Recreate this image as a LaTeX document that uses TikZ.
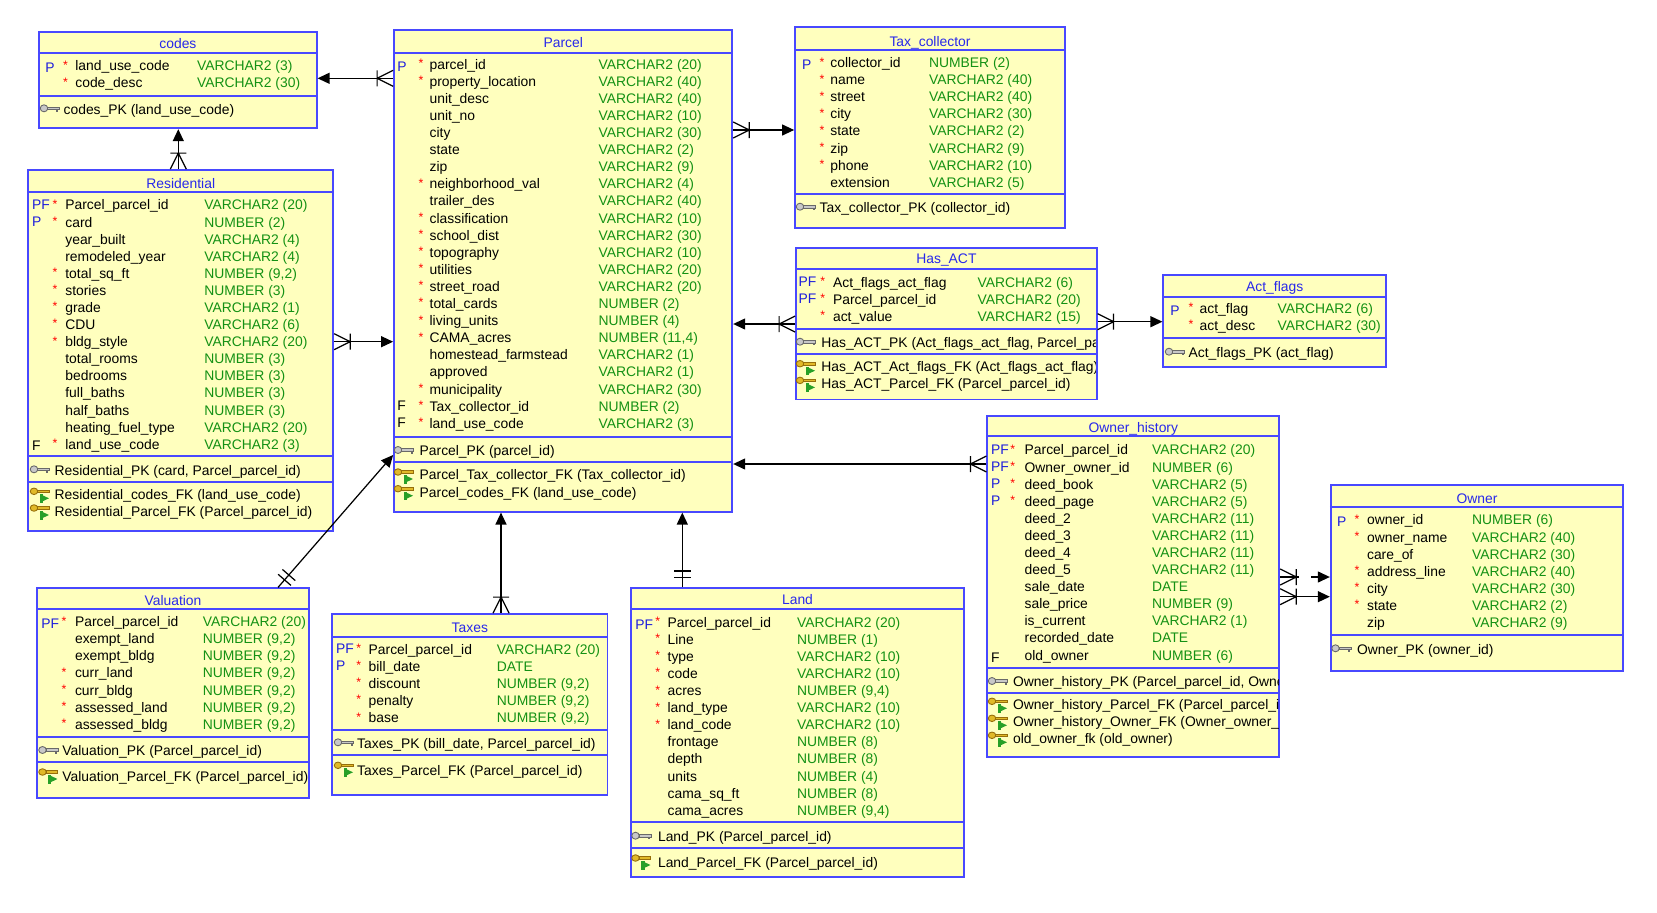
\documentclass[tikz,border=0pt]{standalone}
\usepackage{fontspec}
\setmainfont{Liberation Sans}
\usepackage{tikz}
\usetikzlibrary{arrows.meta,fit,decorations.markings}
\definecolor{tblfill}{RGB}{255,255,190}
\definecolor{tblblue}{RGB}{72,72,255}
\definecolor{titleblue}{RGB}{40,40,235}
\definecolor{flagblue}{RGB}{30,30,220}
\definecolor{typegreen}{RGB}{20,145,20}
\definecolor{keygray}{RGB}{105,105,105}
\definecolor{keylight}{RGB}{200,200,200}
\definecolor{keygold}{RGB}{225,185,40}
\definecolor{keybrown}{RGB}{150,110,10}
\definecolor{keygreen}{RGB}{40,160,40}
\tikzset{
  tbl/.style = {draw=tblblue, fill=tblfill, line width=1pt, inner sep=0pt},% table box
  tblsep/.style = {draw=tblblue, line width=1pt},% line between sections
  tbltitle/.style = {anchor=base, inner sep=0pt, text=titleblue,
    font=\fontsize{7.9}{9.73}\selectfont},% table name
  tblcol/.style = {anchor=north west, inner sep=0pt, align=left,
    font=\fontsize{7.9}{9.73}\selectfont, execute at begin node=\strut},% column of rows
  tblflag/.style = {tblcol, text=flagblue},% P, PF
  tblstar/.style = {tblcol, text=red, font=\fontsize{7}{9.73}\selectfont},% not null
  tbltype/.style = {tblcol, text=typegreen},% data type
  rel/.style = {draw=black, line width=0.7pt,
    -{Triangle[length=0.24cm, width=0.22cm]}},% relation, arrow on the parent
  crow/.style = {postaction={decorate, decoration={markings,
    mark=at position 0.32cm with {\draw[-, line width=0.7pt]
      (0cm,-0.16cm) -- (0cm,0.16cm)
      (0cm,0cm) -- (-0.32cm,0.16cm) (0cm,0cm) -- (-0.32cm,-0.16cm);}}}},% many
  onlyone/.style = {postaction={decorate, decoration={markings,
    mark=at position 0.2cm with {\draw[-, line width=0.7pt] (0cm,-0.17cm) -- (0cm,0.17cm);},
    mark=at position 0.33cm with {\draw[-, line width=0.7pt] (0cm,-0.17cm) -- (0cm,0.17cm);}}}},% one and only one
  pkicon/.pic = {
    \filldraw[draw=keygray, fill=keylight, line width=0.5pt]
      (-0.12cm,0cm) ellipse [x radius=0.075cm, y radius=0.07cm];
    \filldraw[draw=keygray, fill=keylight, line width=0.5pt]
      (-0.05cm,-0.025cm) rectangle (0.19cm,0.025cm);
    \fill[keygray] (0.13cm,-0.025cm) rectangle (0.17cm,-0.07cm);
  },% primary key
  fkicon/.pic = {
    \filldraw[draw=keybrown, fill=keygold, line width=0.5pt]
      (-0.12cm,0.06cm) ellipse [x radius=0.075cm, y radius=0.065cm];
    \filldraw[draw=keybrown, fill=keygold, line width=0.5pt]
      (-0.05cm,0.035cm) rectangle (0.18cm,0.085cm);
    \fill[keygreen] (-0.01cm,-0.17cm) rectangle (0.06cm,0cm);
    \fill[keygreen] (0.03cm,-0.01cm) -- (0.18cm,-0.08cm) -- (0.03cm,-0.15cm) -- cycle;
  }% foreign key
}
\begin{document}
\begin{tikzpicture}[x=0.02cm, y=-0.02cm]
\useasboundingbox (0,0) rectangle (1657,913);

% codes
\node[tbl, fit={(39,31.7) (316.7,128.3)}] (codes) {};
\node[tbltitle] (codes_t) at (177.9,48.8) {codes};
\draw[tblsep] (codes.west |- 0,53) -- (codes.east |- 0,53)
  (codes.west |- 0,96) -- (codes.east |- 0,96);
\node[tblflag] (codes_f) at (45,60.2) {P};
\node[tblstar] (codes_s) at (62.7,60.2) {*\\ *};
\node[tblcol] (codes_n) at (75,60.2) {land\_use\_code\\ code\_desc};
\node[tbltype] (codes_d) at (196.7,60.2) {VARCHAR2 (3)\\ VARCHAR2 (30)};
\node[tblcol] (codes_pk) at (63.3,101.8) {codes\_PK (land\_use\_code)};

% Residential
\node[tbl, fit={(28.3,170) (333.3,531)}] (residential) {};
\node[tbltitle] (residential_t) at (180.8,188.2) {Residential};
\draw[tblsep] (residential.west |- 0,192.3) -- (residential.east |- 0,192.3)
  (residential.west |- 0,456) -- (residential.east |- 0,456)
  (residential.west |- 0,482.3) -- (residential.east |- 0,482.3);
\node[tblflag] (residential_f) at (31.7,199.5) {PF\\ P};
\node[tblcol] (residential_fk) at (31.7,438.2) {F};
\node[tblstar] (residential_s) at (52.3,199.5) {*\\ *\\ \\ \\ *\\ *\\ *\\ *\\ *\\ \\ \\ \\ \\ \\ *};
\node[tblcol] (residential_n) at (65,199.5) {Parcel\_parcel\_id\\ card\\ year\_built\\
  remodeled\_year\\ total\_sq\_ft\\ stories\\ grade\\ CDU\\ bldg\_style\\ total\_rooms\\
  bedrooms\\ full\_baths\\ half\_baths\\ heating\_fuel\_type\\ land\_use\_code};
\node[tbltype] (residential_d) at (204,199.5) {VARCHAR2 (20)\\ NUMBER (2)\\ VARCHAR2 (4)\\
  VARCHAR2 (4)\\ NUMBER (9,2)\\ NUMBER (3)\\ VARCHAR2 (1)\\ VARCHAR2 (6)\\ VARCHAR2 (20)\\
  NUMBER (3)\\ NUMBER (3)\\ NUMBER (3)\\ NUMBER (3)\\ VARCHAR2 (20)\\ VARCHAR2 (3)};
\node[tblcol] (residential_pk) at (54.3,462.8) {Residential\_PK (card, Parcel\_parcel\_id)};
\node[tblcol] (residential_fks) at (54.3,488.8) {Residential\_codes\_FK (land\_use\_code)\\
  Residential\_Parcel\_FK (Parcel\_parcel\_id)};

% Parcel
\node[tbl, fit={(394,30) (732.3,511.7)}] (parcel) {};
\node[tbltitle] (parcel_t) at (563.2,47.8) {Parcel};
\draw[tblsep] (parcel.west |- 0,53.3) -- (parcel.east |- 0,53.3)
  (parcel.west |- 0,436.7) -- (parcel.east |- 0,436.7)
  (parcel.west |- 0,462.3) -- (parcel.east |- 0,462.3);
\node[tblflag] (parcel_f) at (397,58.8) {P};
\node[tblcol] (parcel_fk) at (397,400.8) {F\\ F};
\node[tblstar] (parcel_s) at (418.3,58.8) {*\\ *\\ \\ \\ \\ \\ \\ *\\ \\ *\\ *\\ *\\ *\\ *\\ *\\ *\\ *\\ \\ \\ *\\ *\\ *};
\node[tblcol] (parcel_n) at (429.3,58.8) {parcel\_id\\ property\_location\\ unit\_desc\\
  unit\_no\\ city\\ state\\ zip\\ neighborhood\_val\\ trailer\_des\\ classification\\
  school\_dist\\ topography\\ utilities\\ street\_road\\ total\_cards\\ living\_units\\
  CAMA\_acres\\ homestead\_farmstead\\ approved\\ municipality\\ Tax\_collector\_id\\
  land\_use\_code};
\node[tbltype] (parcel_d) at (598.3,58.8) {VARCHAR2 (20)\\ VARCHAR2 (40)\\ VARCHAR2 (40)\\
  VARCHAR2 (10)\\ VARCHAR2 (30)\\ VARCHAR2 (2)\\ VARCHAR2 (9)\\ VARCHAR2 (4)\\
  VARCHAR2 (40)\\ VARCHAR2 (10)\\ VARCHAR2 (30)\\ VARCHAR2 (10)\\ VARCHAR2 (20)\\
  VARCHAR2 (20)\\ NUMBER (2)\\ NUMBER (4)\\ NUMBER (11,4)\\ VARCHAR2 (1)\\ VARCHAR2 (1)\\
  VARCHAR2 (30)\\ NUMBER (2)\\ VARCHAR2 (3)};
\node[tblcol] (parcel_pk) at (419.3,443.5) {Parcel\_PK (parcel\_id)};
\node[tblcol] (parcel_fks) at (419.3,469.5) {Parcel\_Tax\_collector\_FK (Tax\_collector\_id)\\
  Parcel\_codes\_FK (land\_use\_code)};

% Tax_collector
\node[tbl, fit={(795,27.3) (1065,228.3)}] (tax_collector) {};
\node[tbltitle] (tax_collector_t) at (930,46.2) {Tax\_collector};
\draw[tblsep] (tax_collector.west |- 0,50) -- (tax_collector.east |- 0,50)
  (tax_collector.west |- 0,194) -- (tax_collector.east |- 0,194);
\node[tblflag] (tax_collector_f) at (801.7,57.2) {P};
\node[tblstar] (tax_collector_s) at (819.3,57.2) {*\\ *\\ *\\ *\\ *\\ *\\ *};
\node[tblcol] (tax_collector_n) at (830,57.2) {collector\_id\\ name\\ street\\ city\\ state\\
  zip\\ phone\\ extension};
\node[tbltype] (tax_collector_d) at (928.7,57.2) {NUMBER (2)\\ VARCHAR2 (40)\\ VARCHAR2 (40)\\
  VARCHAR2 (30)\\ VARCHAR2 (2)\\ VARCHAR2 (9)\\ VARCHAR2 (10)\\ VARCHAR2 (5)};
\node[tblcol] (tax_collector_pk) at (819.3,200.2) {Tax\_collector\_PK (collector\_id)};

% Has_ACT
\node[tbl, fit={(796,248.3) (1096.7,399.5)}] (has_act) {};
\node[tbltitle] (has_act_t) at (946.4,263.8) {Has\_ACT};
\draw[tblsep] (has_act.west |- 0,269) -- (has_act.east |- 0,269)
  (has_act.west |- 0,329.3) -- (has_act.east |- 0,329.3)
  (has_act.west |- 0,354) -- (has_act.east |- 0,354);
\node[tblflag] (has_act_f) at (798.3,276.8) {PF\\ PF};
\node[tblstar] (has_act_s) at (820,276.8) {*\\ *\\ *};
\node[tblcol] (has_act_n) at (832.7,276.8) {Act\_flags\_act\_flag\\ Parcel\_parcel\_id\\ act\_value};
\node[tbltype] (has_act_d) at (977.3,276.8) {VARCHAR2 (6)\\ VARCHAR2 (20)\\ VARCHAR2 (15)};
\begin{scope}
  \clip (has_act.west |- 0,330) rectangle ([xshift=-1pt]has_act.east |- 0,399);
  \node[tblcol] (has_act_pk) at (821,335.2) {Has\_ACT\_PK (Act\_flags\_act\_flag, Parcel\_parcel\_id)};
  \node[tblcol] (has_act_fks) at (821,361.2) {Has\_ACT\_Act\_flags\_FK (Act\_flags\_act\_flag)\\
    Has\_ACT\_Parcel\_FK (Parcel\_parcel\_id)};
\end{scope}

% Act_flags
\node[tbl, fit={(1163.3,275) (1386,366.8)}] (act_flags) {};
\node[tbltitle] (act_flags_t) at (1274.7,291.5) {Act\_flags};
\draw[tblsep] (act_flags.west |- 0,296.7) -- (act_flags.east |- 0,296.7)
  (act_flags.west |- 0,337.7) -- (act_flags.east |- 0,337.7);
\node[tblflag] (act_flags_f) at (1170,302.8) {P};
\node[tblstar] (act_flags_s) at (1188.3,302.8) {*\\ *};
\node[tblcol] (act_flags_n) at (1199.3,302.8) {act\_flag\\ act\_desc};
\node[tbltype] (act_flags_d) at (1277.3,302.8) {VARCHAR2 (6)\\ VARCHAR2 (30)};
\node[tblcol] (act_flags_pk) at (1188.3,345.2) {Act\_flags\_PK (act\_flag)};

% Owner_history
\node[tbl, fit={(987.3,416) (1279.3,757)}] (owner_history) {};
\node[tbltitle] (owner_history_t) at (1133.3,432.2) {Owner\_history};
\draw[tblsep] (owner_history.west |- 0,436) -- (owner_history.east |- 0,436)
  (owner_history.west |- 0,667.7) -- (owner_history.east |- 0,667.7)
  (owner_history.west |- 0,692.7) -- (owner_history.east |- 0,692.7);
\node[tblflag] (owner_history_f) at (990.7,444.5) {PF\\ PF\\ P\\ P};
\node[tblcol] (owner_history_fk) at (990.7,649.7) {F};
\node[tblstar] (owner_history_s) at (1010,444.5) {*\\ *\\ *\\ *};
\node[tblcol] (owner_history_n) at (1024.3,444.5) {Parcel\_parcel\_id\\ Owner\_owner\_id\\
  deed\_book\\ deed\_page\\ deed\_2\\ deed\_3\\ deed\_4\\ deed\_5\\ sale\_date\\ sale\_price\\
  is\_current\\ recorded\_date\\ old\_owner};
\node[tbltype] (owner_history_d) at (1151.7,444.5) {VARCHAR2 (20)\\ NUMBER (6)\\ VARCHAR2 (5)\\
  VARCHAR2 (5)\\ VARCHAR2 (11)\\ VARCHAR2 (11)\\ VARCHAR2 (11)\\ VARCHAR2 (11)\\ DATE\\
  NUMBER (9)\\ VARCHAR2 (1)\\ DATE\\ NUMBER (6)};
\begin{scope}
  \clip (owner_history.west |- 0,668) rectangle ([xshift=-1pt]owner_history.east |- 0,756);
  \node[tblcol] (owner_history_pk) at (1012.7,674.5) {Owner\_history\_PK (Parcel\_parcel\_id, Owner\_owner\_id)};
  \node[tblcol] (owner_history_fks) at (1012.7,698.8) {Owner\_history\_Parcel\_FK (Parcel\_parcel\_id)\\
    Owner\_history\_Owner\_FK (Owner\_owner\_id)\\ old\_owner\_fk (old\_owner)};
\end{scope}

% Owner
\node[tbl, fit={(1330.7,485) (1623.3,670.7)}] (owner) {};
\node[tbltitle] (owner_t) at (1477,503.2) {Owner};
\draw[tblsep] (owner.west |- 0,507.3) -- (owner.east |- 0,507.3)
  (owner.west |- 0,635) -- (owner.east |- 0,635);
\node[tblflag] (owner_f) at (1336.7,514.5) {P};
\node[tblstar] (owner_s) at (1354.3,514.5) {*\\ *\\ \\ *\\ *\\ *};
\node[tblcol] (owner_n) at (1366.7,514.5) {owner\_id\\ owner\_name\\ care\_of\\ address\_line\\
  city\\ state\\ zip};
\node[tbltype] (owner_d) at (1471.7,514.5) {NUMBER (6)\\ VARCHAR2 (40)\\ VARCHAR2 (30)\\
  VARCHAR2 (40)\\ VARCHAR2 (30)\\ VARCHAR2 (2)\\ VARCHAR2 (9)};
\node[tblcol] (owner_pk) at (1356.7,641.8) {Owner\_PK (owner\_id)};

% Valuation
\node[tbl, fit={(37,588.3) (309,798.3)}] (valuation) {};
\node[tbltitle] (valuation_t) at (173,605.5) {Valuation};
\draw[tblsep] (valuation.west |- 0,609.3) -- (valuation.east |- 0,609.3)
  (valuation.west |- 0,736.7) -- (valuation.east |- 0,736.7)
  (valuation.west |- 0,761.7) -- (valuation.east |- 0,761.7);
\node[tblflag] (valuation_f) at (41,616.2) {PF};
\node[tblstar] (valuation_s) at (61.3,616.2) {*\\ \\ \\ *\\ *\\ *\\ *};
\node[tblcol] (valuation_n) at (74.7,616.2) {Parcel\_parcel\_id\\ exempt\_land\\ exempt\_bldg\\
  curr\_land\\ curr\_bldg\\ assessed\_land\\ assessed\_bldg};
\node[tbltype] (valuation_d) at (202.5,616.2) {VARCHAR2 (20)\\ NUMBER (9,2)\\ NUMBER (9,2)\\
  NUMBER (9,2)\\ NUMBER (9,2)\\ NUMBER (9,2)\\ NUMBER (9,2)};
\node[tblcol] (valuation_pk) at (62,743.5) {Valuation\_PK (Parcel\_parcel\_id)};
\node[tblcol] (valuation_fks) at (62,769.5) {Valuation\_Parcel\_FK (Parcel\_parcel\_id)};

% Taxes
\node[tbl, fit={(332,614) (607.5,795)}] (taxes) {};
\node[tbltitle] (taxes_t) at (469.8,632.8) {Taxes};
\draw[tblsep] (taxes.west |- 0,636.7) -- (taxes.east |- 0,636.7)
  (taxes.west |- 0,730) -- (taxes.east |- 0,730)
  (taxes.west |- 0,755) -- (taxes.east |- 0,755);
\node[tblflag] (taxes_f) at (335.7,643.8) {PF\\ P};
\node[tblstar] (taxes_s) at (356,643.8) {*\\ *\\ *\\ *\\ *};
\node[tblcol] (taxes_n) at (368.3,643.8) {Parcel\_parcel\_id\\ bill\_date\\ discount\\ penalty\\ base};
\node[tbltype] (taxes_d) at (496.5,643.8) {VARCHAR2 (20)\\ DATE\\ NUMBER (9,2)\\ NUMBER (9,2)\\
  NUMBER (9,2)};
\node[tblcol] (taxes_pk) at (356.8,735.8) {Taxes\_PK (bill\_date, Parcel\_parcel\_id)};
\node[tblcol] (taxes_fks) at (356.8,762.8) {Taxes\_Parcel\_FK (Parcel\_parcel\_id)};

% Land
\node[tbl, fit={(631,588.3) (964,876.7)}] (land) {};
\node[tbltitle] (land_t) at (797.5,604.8) {Land};
\draw[tblsep] (land.west |- 0,609.3) -- (land.east |- 0,609.3)
  (land.west |- 0,822.3) -- (land.east |- 0,822.3)
  (land.west |- 0,848.3) -- (land.east |- 0,848.3);
\node[tblflag] (land_f) at (635,616.8) {PF};
\node[tblstar] (land_s) at (655,616.8) {*\\ *\\ *\\ *\\ *\\ *\\ *};
\node[tblcol] (land_n) at (667.3,616.8) {Parcel\_parcel\_id\\ Line\\ type\\ code\\ acres\\
  land\_type\\ land\_code\\ frontage\\ depth\\ units\\ cama\_sq\_ft\\ cama\_acres};
\node[tbltype] (land_d) at (796.7,616.8) {VARCHAR2 (20)\\ NUMBER (1)\\ VARCHAR2 (10)\\
  VARCHAR2 (10)\\ NUMBER (9,4)\\ VARCHAR2 (10)\\ VARCHAR2 (10)\\ NUMBER (8)\\ NUMBER (8)\\
  NUMBER (4)\\ NUMBER (8)\\ NUMBER (9,4)};
\node[tblcol] (land_pk) at (657.7,829.2) {Land\_PK (Parcel\_parcel\_id)};
\node[tblcol] (land_fks) at (657.7,855.5) {Land\_Parcel\_FK (Parcel\_parcel\_id)};

% key icons
\foreach \x/\y in {50/108.3, 40/469.3, 404/450, 806/206.7, 806/341.7, 1175/351.7,
  998/681, 1341.5/648.3, 48.5/750, 344/742.3, 641.5/835.7}
  \pic at (\x,\y) {pkicon};
\foreach \x/\y in {40/494.3, 40/511, 404/475, 404/491.7, 806/366.7, 806/383.4,
  998/704.3, 998/721.3, 998/738.3, 48.5/775, 344/768.3, 641.5/861}
  \pic at (\x,\y) {fkicon};

% relations
\draw[rel, crow] (parcel.west |- 0,78.3) -- (codes.east |- 0,78.3);
\draw[rel, crow] (residential.north -| 178.3,0) -- (codes.south -| 178.3,0);
\draw[rel, crow] (residential.east |- 0,341.7) -- (parcel.west |- 0,341.7);
\draw[rel, onlyone] (valuation.north -| 278,0) -- (parcel.west |- 0,455);
\draw[rel, crow] (taxes.north -| 501,0) -- (parcel.south -| 501,0);
\draw[rel, onlyone] (land.north -| 682.3,0) -- (parcel.south -| 682.3,0);
\draw[rel, crow] (parcel.east |- 0,130) -- (tax_collector.west |- 0,130);
\draw[rel, crow] (has_act.west |- 0,324) -- (parcel.east |- 0,324);
\draw[rel, crow] (has_act.east |- 0,321.7) -- (act_flags.west |- 0,321.7);
\draw[rel, crow] (owner_history.west |- 0,464) -- (parcel.east |- 0,464);
\draw[rel, crow] (owner_history.east |- 0,577) -- ++(19,0) ++(12,0) -- (owner.west |- 0,577);
\draw[rel, crow] (owner_history.east |- 0,596.7) -- (owner.west |- 0,596.7);
\end{tikzpicture}
\end{document}
